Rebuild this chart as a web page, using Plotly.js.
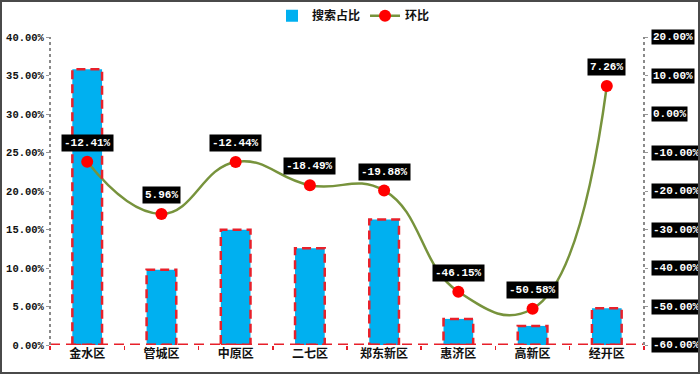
<!DOCTYPE html>
<html>
<head>
<meta charset="utf-8">
<script src="https://cdn.plot.ly/plotly-3.0.1.min.js"></script>
<style>
html,body{margin:0;padding:0;background:#fff;}
#wrap{position:relative;width:700px;height:374px;}
#chart{width:700px;height:374px;}
#frame{position:absolute;left:0;top:0;width:700px;height:374px;box-sizing:border-box;border:2px solid #4a4a4a;pointer-events:none;}
</style>
</head>
<body>
<div id="wrap"><div id="chart"></div><div id="frame"></div></div>
<script>
const categories = ['金水区','管城区','中原区','二七区','郑东新区','惠济区','高新区','经开区'];
const searchShare = [35.8, 9.77, 14.98, 12.55, 16.3, 3.39, 2.48, 4.78];
const momChange = [-12.41, -25.96, -12.44, -18.49, -19.88, -46.15, -50.58, 7.26];
const momLabels = ['-12.41%','5.96%','-12.44%','-18.49%','-19.88%','-46.15%','-50.58%','7.26%'];
const leftTicks = [0,5,10,15,20,25,30,35,40];
const rightTicks = [-60,-50,-40,-30,-20,-10,0,10,20];

const numFont = 'Liberation Mono, DejaVu Sans Mono, monospace';
const cjkFont = 'Noto Sans CJK SC, sans-serif';
const barW = 0.4;

const traces = [
  {
    type:'bar', name:'搜索占比', x:categories, y:searchShare, width:barW,
    marker:{color:'#00B0F0', line:{width:0}}, hoverinfo:'none'
  },
  {
    type:'scatter', mode:'lines+markers', name:'环比', x:categories, y:momChange, yaxis:'y2',
    line:{color:'#77933C', width:2.5, shape:'spline', smoothing:1.3},
    marker:{color:'#FF0000', size:12}, hoverinfo:'none'
  }
];

const shapes = [];
searchShare.forEach((v,i)=>{
  shapes.push({type:'rect', xref:'x', yref:'y', x0:i-barW/2, x1:i+barW/2, y0:0, y1:v,
    line:{color:'#E8202A', width:2.5, dash:'9px,5px'}, fillcolor:'rgba(0,0,0,0)', layer:'above'});
});
shapes.push({type:'line', xref:'paper', yref:'y', x0:0, x1:1, y0:0, y1:0, line:{color:'#E8202A', width:3, dash:'10px,6px'}});
shapes.push({type:'line', xref:'paper', yref:'paper', x0:0, x1:0, y0:0, y1:1, line:{color:'#8a8a8a', width:2, dash:'dot'}});
shapes.push({type:'line', xref:'paper', yref:'paper', x0:1, x1:1, y0:0, y1:1, line:{color:'#8a8a8a', width:2, dash:'dot'}});

const annotations = [];
momChange.forEach((v,i)=>{
  annotations.push({xref:'x', yref:'y2', x:categories[i], y:v, text:momLabels[i], showarrow:false,
    yshift:19, bgcolor:'#000', borderpad:2, font:{family:numFont, size:11, color:'#fff', weight:'bold'}});
});
rightTicks.forEach(t=>{
  annotations.push({xref:'paper', yref:'y2', x:1, y:t, xanchor:'left', xshift:7, text:t.toFixed(2)+'%', showarrow:false,
    bgcolor:'#000', borderpad:1, font:{family:numFont, size:11, color:'#fff', weight:'bold'}});
});

const layout = {
  width:700, height:374,
  margin:{l:50, r:56, t:37, b:29},
  paper_bgcolor:'#fff', plot_bgcolor:'#fff',
  showlegend:true,
  legend:{orientation:'h', xref:'container', yref:'container', x:0.505, xanchor:'center', y:0.958, yanchor:'middle',
    font:{family:cjkFont, size:12, color:'#111', weight:'bold'}, itemwidth:30, traceorder:'normal'},
  bargap:0.6,
  xaxis:{type:'category', showgrid:false, zeroline:false, showline:false,
    ticks:'outside', tickson:'boundaries', ticklen:4, tickcolor:'#E8202A', tickwidth:1.5,
    tickfont:{family:cjkFont, size:12, color:'#111', weight:'bold'}},
  yaxis:{range:[0,40], tickvals:leftTicks, ticktext:leftTicks.map(t=>t.toFixed(2)+'%'),
    showgrid:false, zeroline:false, showline:false, ticks:'outside', ticklen:3, tickcolor:'#999',
    tickfont:{family:numFont, size:10.5, color:'#111', weight:'bold'}},
  yaxis2:{range:[-60,20], overlaying:'y', side:'right', tickvals:rightTicks, showticklabels:false,
    showgrid:false, zeroline:false, showline:false, ticks:'outside', ticklen:3, tickcolor:'#999'},
  shapes:shapes,
  annotations:annotations
};

Plotly.newPlot('chart', traces, layout, {displayModeBar:false, staticPlot:true});
</script>
</body>
</html>
